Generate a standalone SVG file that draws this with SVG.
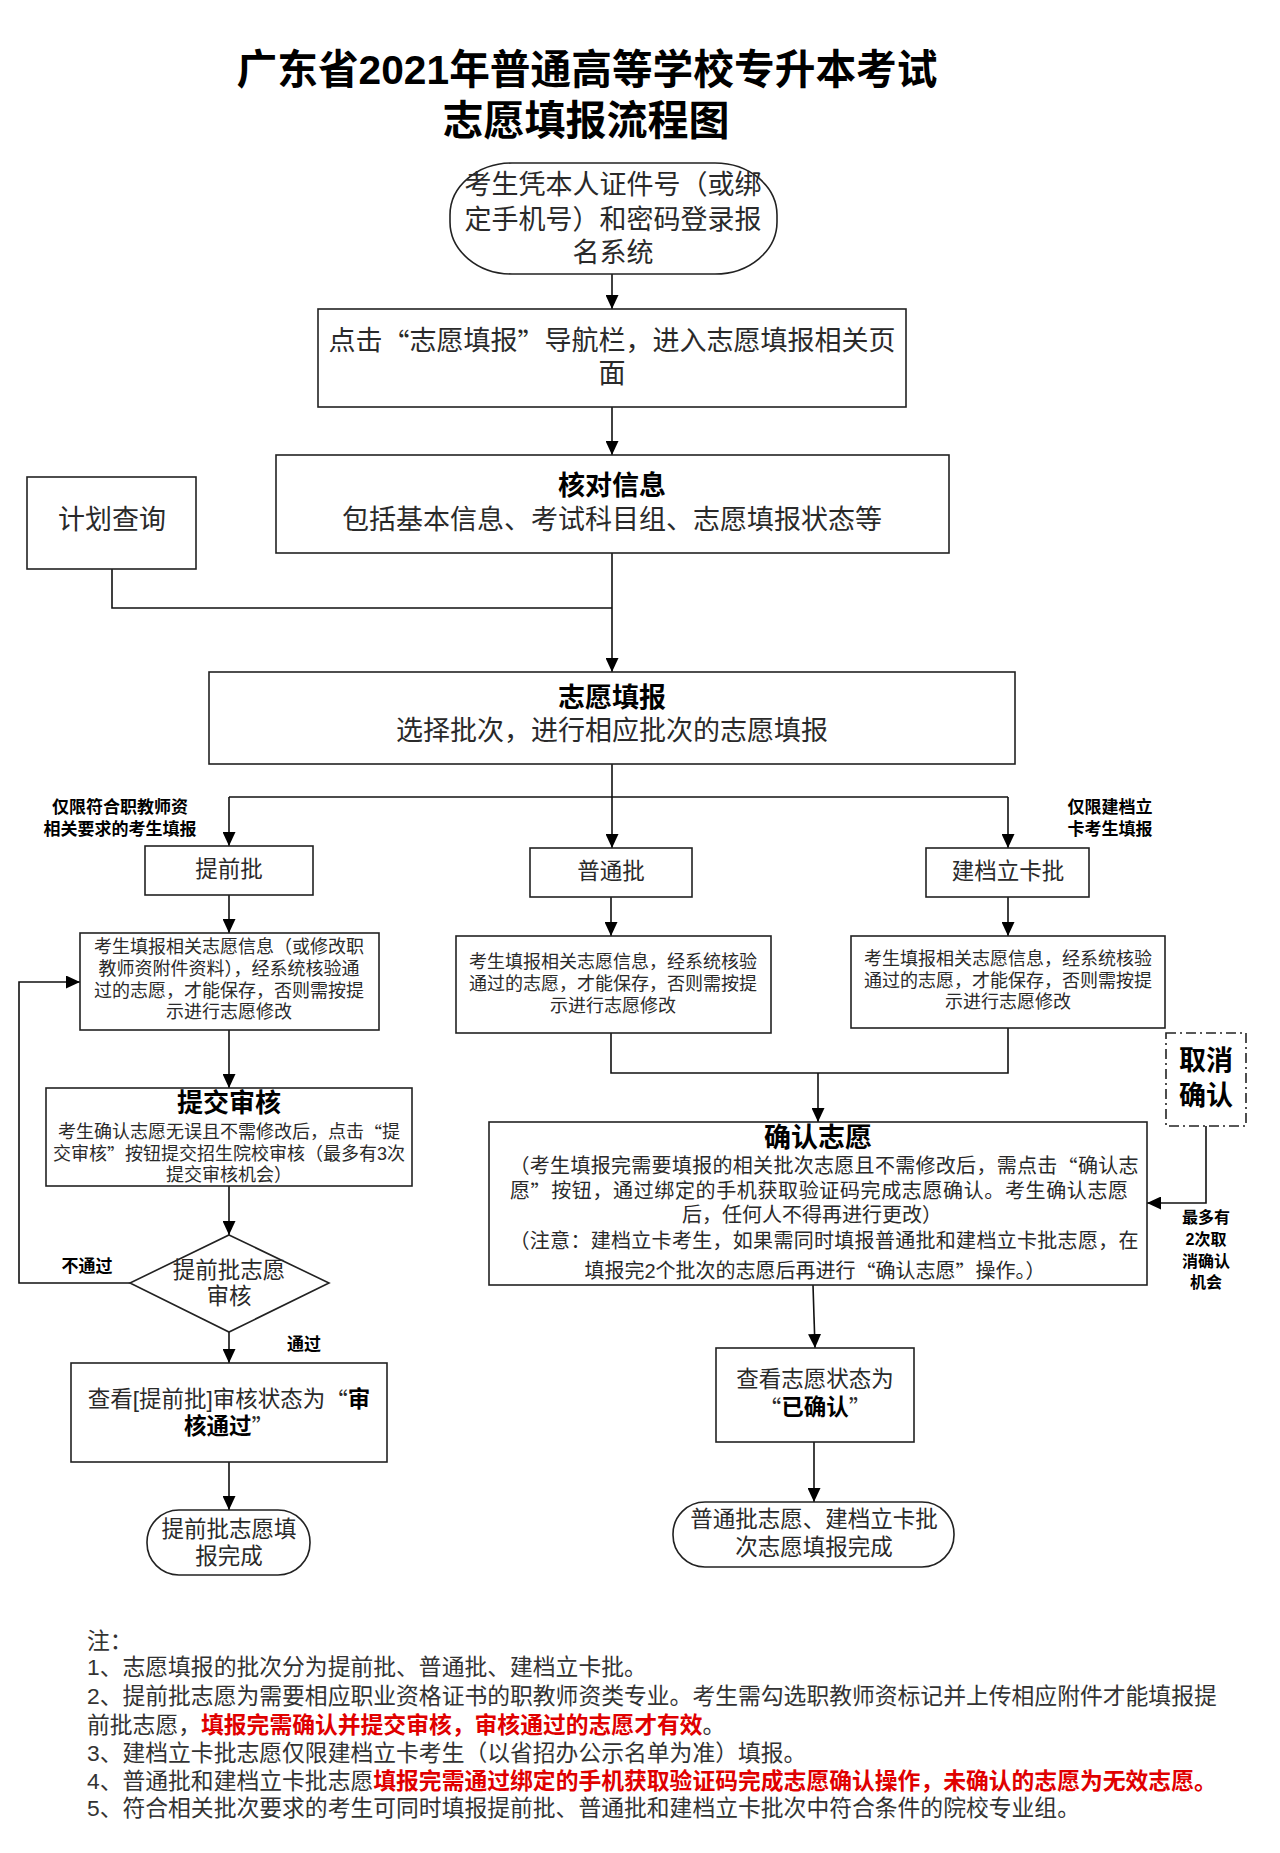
<svg xmlns="http://www.w3.org/2000/svg" width="1280" height="1853" viewBox="0 0 1280 1853">
<style>
text{font-family:"Liberation Sans","Noto Sans CJK SC",sans-serif;fill:#2a2a2a;dominant-baseline:central;text-anchor:middle}
.q{font-family:"Noto Sans CJK SC",sans-serif}
.b{font-weight:bold;fill:#000}
.t27{font-size:27px}
.t22{font-size:22.5px}
.t18{font-size:18px}
.t20{font-size:20px}
.lab{font-size:17px;font-weight:bold;fill:#000}
.box{fill:#fff;stroke:#222;stroke-width:1.6}
.dash{fill:#fff;stroke:#222;stroke-width:1.6;stroke-dasharray:10 4 2 4}
.ln{fill:none;stroke:#111;stroke-width:1.6}
.ar{fill:none;stroke:#111;stroke-width:1.6;marker-end:url(#ah)}
.note{font-size:22.8px;text-anchor:start;fill:#333}
.red{fill:#e00000;font-weight:bold}
</style>
<defs>
<marker id="ah" markerUnits="userSpaceOnUse" markerWidth="15" markerHeight="13" refX="14" refY="6.5" orient="auto">
<path d="M0,0 L14,6.5 L0,13 z" fill="#000"/>
</marker>
</defs>
<rect width="1280" height="1853" fill="#fff"/>

<g id="title">
<text class="b" style="font-size:41px"><tspan x="587" y="70" textLength="701" lengthAdjust="spacingAndGlyphs">广东省2021年普通高等学校专升本考试</tspan><tspan x="586" y="121">志愿填报流程图</tspan></text>
</g>

<g id="connectors">
<line class="ar" x1="612" y1="274" x2="612" y2="309"/>
<line class="ar" x1="612" y1="407" x2="612" y2="455"/>
<line class="ar" x1="612" y1="553" x2="612" y2="672"/>
<polyline class="ln" points="112,569 112,608 612,608"/>
<line class="ln" x1="612" y1="764" x2="612" y2="797"/>
<line class="ln" x1="229" y1="797" x2="1008" y2="797"/>
<line class="ar" x1="229" y1="797" x2="229" y2="846"/>
<line class="ar" x1="612" y1="797" x2="612" y2="848"/>
<line class="ar" x1="1008" y1="797" x2="1008" y2="848"/>
<line class="ar" x1="229" y1="895" x2="229" y2="933"/>
<line class="ar" x1="611" y1="897" x2="611" y2="936"/>
<line class="ar" x1="1008" y1="897" x2="1008" y2="936"/>
<line class="ar" x1="229" y1="1030" x2="229" y2="1088"/>
<line class="ar" x1="229" y1="1186" x2="229" y2="1235"/>
<polyline class="ar" points="130,1283 19,1283 19,982 80,982"/>
<line class="ar" x1="229" y1="1332" x2="229" y2="1363"/>
<line class="ar" x1="229" y1="1462" x2="229" y2="1510"/>
<polyline class="ln" points="611,1033 611,1073 1008,1073 1008,1028"/>
<line class="ar" x1="818" y1="1073" x2="818" y2="1122"/>
<polyline class="ar" points="1206,1126 1206,1203 1147,1203"/>
<line class="ar" x1="813" y1="1285" x2="815" y2="1348"/>
<line class="ar" x1="814" y1="1442" x2="814" y2="1502"/>
</g>

<g id="start">
<rect class="box" x="450" y="163" width="327" height="111" rx="62" ry="52"/>
<text class="t27"><tspan x="613" y="185">考生凭本人证件号（或绑</tspan><tspan x="613" y="220">定手机号）和密码登录报</tspan><tspan x="613" y="253">名系统</tspan></text>
</g>

<g id="nav">
<rect class="box" x="318" y="309" width="588" height="98"/>
<text class="t27"><tspan x="612" y="341">点击<tspan class="q">“</tspan>志愿填报<tspan class="q">”</tspan>导航栏，进入志愿填报相关页</tspan><tspan x="612" y="374">面</tspan></text>
</g>

<g id="check">
<rect class="box" x="276" y="455" width="673" height="98"/>
<text class="t27"><tspan class="b" x="612" y="486">核对信息</tspan><tspan x="612" y="520">包括基本信息、考试科目组、志愿填报状态等</tspan></text>
</g>

<g id="plan">
<rect class="box" x="27" y="477" width="169" height="92"/>
<text class="t27" x="112" y="520">计划查询</text>
</g>

<g id="fill">
<rect class="box" x="209" y="672" width="806" height="92"/>
<text class="t27"><tspan class="b" x="612" y="698">志愿填报</tspan><tspan x="612" y="731">选择批次，进行相应批次的志愿填报</tspan></text>
</g>

<g id="label-left">
<text class="lab"><tspan x="120" y="807">仅限符合职教师资</tspan><tspan x="120" y="829">相关要求的考生填报</tspan></text>
</g>
<g id="label-right">
<text class="lab"><tspan x="1110" y="807">仅限建档立</tspan><tspan x="1110" y="829">卡考生填报</tspan></text>
</g>

<g id="tqp">
<rect class="box" x="145" y="846" width="168" height="49"/>
<text class="t22" x="229" y="869">提前批</text>
</g>
<g id="ptp">
<rect class="box" x="530" y="848" width="162" height="49"/>
<text class="t22" x="611" y="871">普通批</text>
</g>
<g id="jdp">
<rect class="box" x="926" y="848" width="163" height="49"/>
<text class="t22" x="1008" y="871">建档立卡批</text>
</g>

<g id="tq-detail">
<rect class="box" x="80" y="933" width="299" height="97"/>
<text class="t18"><tspan x="229" y="947">考生填报相关志愿信息（或修改职</tspan><tspan x="229" y="969">教师资附件资料），经系统核验通</tspan><tspan x="229" y="991">过的志愿，才能保存，否则需按提</tspan><tspan x="229" y="1012">示进行志愿修改</tspan></text>
</g>

<g id="pt-detail">
<rect class="box" x="456" y="936" width="315" height="97"/>
<text class="t18"><tspan x="613" y="962">考生填报相关志愿信息，经系统核验</tspan><tspan x="613" y="984">通过的志愿，才能保存，否则需按提</tspan><tspan x="613" y="1006">示进行志愿修改</tspan></text>
</g>

<g id="jd-detail">
<rect class="box" x="851" y="936" width="314" height="92"/>
<text class="t18"><tspan x="1008" y="959">考生填报相关志愿信息，经系统核验</tspan><tspan x="1008" y="981">通过的志愿，才能保存，否则需按提</tspan><tspan x="1008" y="1002">示进行志愿修改</tspan></text>
</g>

<g id="submit">
<rect class="box" x="46" y="1088" width="366" height="98"/>
<text class="t18"><tspan class="b" style="font-size:26px" x="229" y="1103">提交审核</tspan><tspan x="229" y="1132">考生确认志愿无误且不需修改后，点击<tspan class="q">“</tspan>提</tspan><tspan x="229" y="1154">交审核<tspan class="q">”</tspan>按钮提交招生院校审核（最多有3次</tspan><tspan x="229" y="1175">提交审核机会）</tspan></text>
</g>

<g id="review">
<polygon class="box" points="229,1235 329,1283 229,1332 130,1283"/>
<text class="t22"><tspan x="229" y="1270">提前批志愿</tspan><tspan x="229" y="1296">审核</tspan></text>
</g>
<g id="label-fail"><text class="lab" x="87" y="1266">不通过</text></g>
<g id="label-pass"><text class="lab" x="304" y="1344">通过</text></g>

<g id="tq-status">
<rect class="box" x="71" y="1363" width="316" height="99"/>
<text class="t22"><tspan x="229" y="1399">查看[提前批]审核状态为<tspan class="q">“</tspan><tspan class="b">审</tspan></tspan><tspan x="229" y="1426"><tspan class="b">核通过</tspan><tspan class="q">”</tspan></tspan></text>
</g>

<g id="tq-end">
<rect class="box" x="147" y="1510" width="163" height="65" rx="32" ry="32"/>
<text class="t22"><tspan x="229" y="1529">提前批志愿填</tspan><tspan x="229" y="1556">报完成</tspan></text>
</g>

<g id="confirm">
<rect class="box" x="489" y="1122" width="658" height="163"/>
<text class="t20"><tspan class="b" style="font-size:27px" x="818" y="1138">确认志愿</tspan><tspan x="824" y="1166" textLength="629" lengthAdjust="spacing">（考生填报完需要填报的相关批次志愿且不需修改后，需点击<tspan class="q">“</tspan>确认志</tspan><tspan x="819" y="1191" textLength="618" lengthAdjust="spacing">愿<tspan class="q">”</tspan>按钮，通过绑定的手机获取验证码完成志愿确认。考生确认志愿</tspan><tspan x="812" y="1215">后，任何人不得再进行更改）</tspan><tspan x="824" y="1241" textLength="629" lengthAdjust="spacing">（注意：建档立卡考生，如果需同时填报普通批和建档立卡批志愿，在</tspan><tspan x="815" y="1271">填报完2个批次的志愿后再进行<tspan class="q">“</tspan>确认志愿<tspan class="q">”</tspan>操作。）</tspan></text>
</g>

<g id="cancel">
<rect class="dash" x="1166" y="1033" width="80" height="93"/>
<text class="b" style="font-size:27px"><tspan x="1206" y="1061">取消</tspan><tspan x="1206" y="1096">确认</tspan></text>
</g>
<g id="label-cancel">
<text class="lab" style="font-size:16px"><tspan x="1206" y="1217">最多有</tspan><tspan x="1206" y="1239">2次取</tspan><tspan x="1206" y="1261">消确认</tspan><tspan x="1206" y="1282">机会</tspan></text>
</g>

<g id="status">
<rect class="box" x="716" y="1348" width="198" height="94"/>
<text class="t22"><tspan x="815" y="1379">查看志愿状态为</tspan><tspan x="815" y="1407"><tspan class="q">“</tspan><tspan class="b">已确认</tspan><tspan class="q">”</tspan></tspan></text>
</g>

<g id="end2">
<rect class="box" x="673" y="1502" width="281" height="65" rx="32" ry="32"/>
<text class="t22"><tspan x="814" y="1519">普通批志愿、建档立卡批</tspan><tspan x="814" y="1547">次志愿填报完成</tspan></text>
</g>

<g id="notes">
<text class="note"><tspan x="87" y="1641">注：</tspan><tspan x="87" y="1667">1、志愿填报的批次分为提前批、普通批、建档立卡批。</tspan><tspan x="87" y="1696">2、提前批志愿为需要相应职业资格证书的职教师资类专业。考生需勾选职教师资标记并上传相应附件才能填报提</tspan><tspan x="87" y="1725">前批志愿，<tspan class="red">填报完需确认并提交审核，审核通过的志愿才有效</tspan>。</tspan><tspan x="87" y="1753">3、建档立卡批志愿仅限建档立卡考生（以省招办公示名单为准）填报。</tspan><tspan x="87" y="1781">4、普通批和建档立卡批志愿<tspan class="red">填报完需通过绑定的手机获取验证码完成志愿确认操作，未确认的志愿为无效志愿。</tspan></tspan><tspan x="87" y="1808">5、符合相关批次要求的考生可同时填报提前批、普通批和建档立卡批次中符合条件的院校专业组。</tspan></text>
</g>
</svg>
